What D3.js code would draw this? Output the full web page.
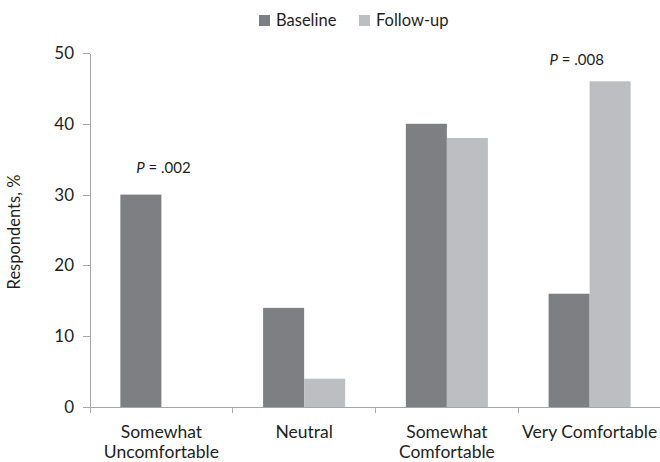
<!DOCTYPE html>
<html lang="en">
<head>
<meta charset="UTF-8">
<title>Comfort ratings, baseline vs follow-up</title>
<script src="https://d3js.org/d3.v7.min.js"></script>
<style>
  body { margin: 0; background: #fff; }
  svg text { font-family: Lato, sans-serif; fill: #231f20; }
  .axis path, .axis line { stroke: #a6a6a6; shape-rendering: crispEdges; }
</style>
</head>
<body>
<div class="chart"></div>
<script>
// data
var categories = ["Somewhat Uncomfortable", "Neutral", "Somewhat Comfortable", "Very Comfortable"];
var catLabels = [["Somewhat", "Uncomfortable"], ["Neutral"], ["Somewhat", "Comfortable"], ["Very Comfortable"]];
var series = ["Baseline", "Follow-up"];
var baseline = [30, 14, 40, 16];
var followUp = [0, 4, 38, 46];
var yTicks = [0, 10, 20, 30, 40, 50];
var pNotes = [
  {cat: "Somewhat Uncomfortable", text: ".002", at: 33},
  {cat: "Very Comfortable", text: ".008", at: 48.3}
];

var colors = {"Baseline": "#7e7f83", "Follow-up": "#bdbec2"};
var noteShift = [2, -13];   // nudges of the P labels off the category centre

var W = 660, H = 462;
var margin = {top: 53, right: -1, bottom: 55, left: 90};
var width = W - margin.left - margin.right,
    height = H - margin.top - margin.bottom;

var svg = d3.select(".chart").append("svg")
    .attr("width", W)
    .attr("height", H)
  .append("g")
    .attr("transform", "translate(" + margin.left + "," + margin.top + ")");

var x0 = d3.scaleBand()
    .domain(categories)
    .range([0, width])
    .padding(0);
var x1 = d3.scaleBand()
    .domain(series)
    .range([0, x0.bandwidth()])
    .paddingInner(0)
    .paddingOuter(0.74);
var y = d3.scaleLinear()
    .domain([0, 50])
    .range([height, 0]);

var rows = categories.map((c, i) => ({cat: c, values: [
  {key: "Baseline", value: baseline[i]},
  {key: "Follow-up", value: followUp[i]}
]}));

// bars
var groups = svg.selectAll(".group")
    .data(rows)
  .enter().append("g")
    .attr("class", "group")
    .attr("transform", d => "translate(" + x0(d.cat) + ",0)");

groups.selectAll("rect")
    .data(d => d.values.filter(v => v.value > 0))
  .enter().append("rect")
    .attr("x", d => x1(d.key))
    .attr("width", x1.bandwidth())
    .attr("y", d => y(d.value))
    .attr("height", d => height - y(d.value))
    .style("fill", d => colors[d.key]);

// y axis
var yAxis = svg.append("g")
    .attr("class", "axis")
    .call(d3.axisLeft(y)
      .tickValues(yTicks)
      .tickSize(7)
      .tickSizeOuter(0)
      .tickPadding(9)
      .tickFormat(d3.format("d")));
yAxis.selectAll("text").style("font-size", "17px");

// x axis: line plus ticks at the category boundaries
var xAxis = svg.append("g")
    .attr("class", "axis")
    .attr("transform", "translate(0," + height + ")");
xAxis.append("line")
    .attr("x1", 0).attr("x2", width)
    .attr("y1", 0).attr("y2", 0);
xAxis.selectAll(".bound")
    .data(categories)
  .enter().append("line")
    .attr("class", "bound")
    .attr("x1", d => x0(d)).attr("x2", d => x0(d))
    .attr("y1", 0).attr("y2", 6);

var lab = xAxis.selectAll(".catlab")
    .data(categories)
  .enter().append("text")
    .attr("class", "catlab")
    .attr("x", d => x0(d) + x0.bandwidth() / 2)
    .attr("y", 31)
    .style("text-anchor", "middle")
    .style("font-size", "17.5px");
lab.selectAll("tspan")
    .data((d, i) => catLabels[i])
  .enter().append("tspan")
    .attr("x", function () { return d3.select(this.parentNode).attr("x"); })
    .attr("dy", (d, i) => i === 0 ? 0 : 20)
    .text(d => d);

// y axis title
svg.append("text")
    .attr("transform", "rotate(-90)")
    .attr("x", -(y(25)) - 2)
    .attr("y", -70)
    .style("text-anchor", "middle")
    .style("font-size", "16.5px")
    .text("Respondents, %");

// P value notes
var notes = svg.selectAll(".pnote")
    .data(pNotes)
  .enter().append("text")
    .attr("class", "pnote")
    .attr("x", (d, i) => x0(d.cat) + x0.bandwidth() / 2 + noteShift[i])
    .attr("y", d => y(d.at))
    .style("text-anchor", "middle")
    .style("font-size", "15px");
notes.append("tspan").style("font-style", "italic").text("P");
notes.append("tspan").text(d => " = " + d.text);

// legend
var L = svg.selectAll(".legend")
    .data(series)
  .enter().append("g")
    .attr("class", "legend")
    .attr("transform", (d, i) => "translate(" + (169 + i * 100) + "," + (-38) + ")");
L.append("rect")
    .attr("x", 0).attr("y", 0)
    .attr("width", 11).attr("height", 11)
    .style("fill", d => colors[d]);
L.append("text")
    .attr("x", 17)
    .attr("y", 11)
    .style("font-size", "16.5px")
    .text(d => d);
</script>
</body>
</html>
